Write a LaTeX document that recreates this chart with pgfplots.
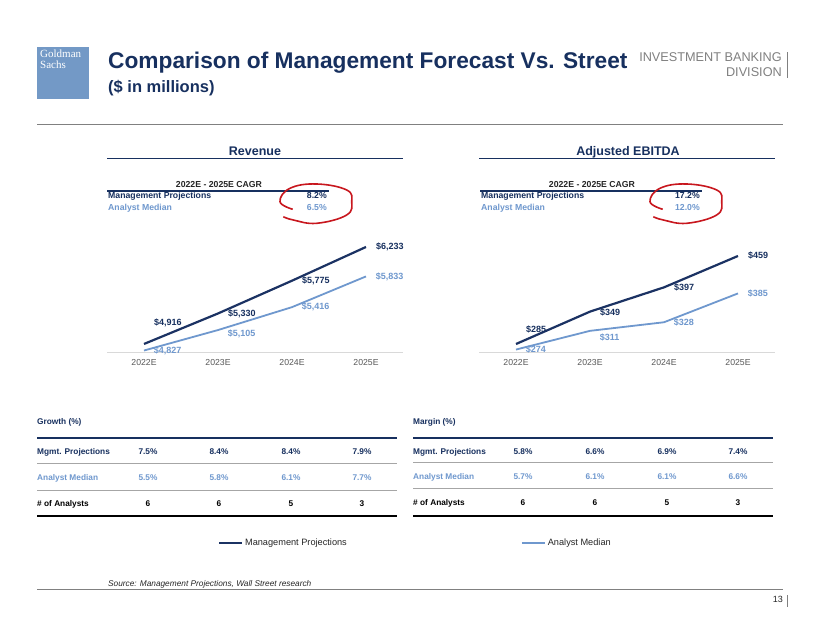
\documentclass[border=0pt]{standalone}
\usepackage{fontspec}
\setmainfont{Liberation Sans}
\newfontfamily\logofont{Liberation Serif}
\usepackage{pgfplots}
\pgfplotsset{compat=1.18}
\usepackage{pgfplotstable}

\definecolor{gsnavy}{HTML}{17305F}
\definecolor{gsline}{HTML}{1B3263}
\definecolor{gslight}{HTML}{6F98CE}
\definecolor{gslogo}{HTML}{7399C6}
\definecolor{gsgray}{HTML}{808080}
\definecolor{rulegray}{HTML}{A6A6A6}
\definecolor{tickgray}{HTML}{595959}
\definecolor{basegray}{HTML}{D9D9D9}
\definecolor{gsred}{HTML}{C8171E}
\definecolor{legtext}{HTML}{262626}

\newcommand{\fs}[1]{\fontsize{#1}{#1}\selectfont}

% revenue ($mm)
\pgfplotstableread{
x y lab dy
0 4916 4,916 21
1 5330 5,330 0
2 5775 5,775 0
3 6233 6,233 0
}\revM
\pgfplotstableread{
x y lab dy
0 4827 4,827 0
1 5105 5,105 -4
2 5416 5,416 0
3 5833 5,833 0
}\revA
% adjusted ebitda ($mm)
\pgfplotstableread{
x y lab dy
0 285 285 15
1 349 349 -1
2 397 397 0
3 459 459 0
}\ebM
\pgfplotstableread{
x y lab dy
0 274 274 0
1 311 311 -7
2 328 328 0
3 385 385 0
}\ebA

\pgfplotsset{
  minichart/.style={
    scale only axis, width=296pt, height=130pt, anchor=south west,
    xmin=-0.5, xmax=3.5,
    axis x line*=bottom, axis y line=none, ytick=\empty,
    x axis line style={draw=basegray, line width=0.8pt},
    xtick={0,1,2,3}, xticklabels={2022E,2023E,2024E,2025E},
    major tick length=0pt,
    xticklabel style={font=\fs{8.7}, text=tickgray, yshift=-4pt},
    clip=false,
    point meta=explicit symbolic,
    nodes near coords={\$\pgfplotspointmeta},
    visualization depends on={\thisrow{dy}\as\labdy},
    every node near coord/.append style={anchor=west, inner sep=0pt,
      xshift=9pt, yshift=\labdy pt, font=\bfseries\fs{9}},
  },
  mgmt/.style={draw=gsline, line width=2.2pt,
    every node near coord/.append style={text=gsnavy}},
  anal/.style={draw=gslight, line width=1.8pt,
    every node near coord/.append style={text=gslight}},
}

\begin{document}
\begin{tikzpicture}[tb/.style={inner sep=0pt, font=\bfseries\fs{8.3}}]
\path[use as bounding box, fill=white] (0,0) rectangle (820pt,634pt);

% header
\fill[gslogo] (37pt,535pt) rectangle (89pt,587pt);
\node[anchor=base west, inner sep=0pt, text=white, font=\logofont\fs{11}] at (40pt,576pt) {Goldman};
\node[anchor=base west, inner sep=0pt, text=white, font=\logofont\fs{11}] at (40pt,565pt) {Sachs};
\node[anchor=base west, inner sep=0pt, text=gsnavy, font=\bfseries\fs{22.7}] at (108pt,565pt) {Comparison of Management Forecast Vs. Street};
\node[anchor=base west, inner sep=0pt, text=gsnavy, font=\bfseries\fs{16.5}] at (108pt,541pt) {(\$ in millions)};
\node[anchor=base east, inner sep=0pt, text=gsgray, font=\fs{12.7}] at (782pt,572pt) {INVESTMENT BANKING};
\node[anchor=base east, inner sep=0pt, text=gsgray, font=\fs{12.7}] at (782pt,557pt) {DIVISION};
\draw[gsgray, line width=0.8pt] (787pt,556pt) -- (787pt,582pt);
\draw[gsgray, line width=1pt] (37pt,509pt) -- (783pt,509pt);

% chart headings and CAGR boxes
\node[anchor=base, inner sep=0pt, text=gsnavy, font=\bfseries\fs{12.5}] at (255pt,478pt) {Revenue};
\draw[gsnavy, line width=1.5pt] (107pt,475.5pt) -- (403pt,475.5pt);
\node[anchor=base, inner sep=0pt, text=gsnavy, font=\bfseries\fs{12.5}] at (628pt,478pt) {Adjusted EBITDA};
\draw[gsnavy, line width=1.5pt] (479pt,475.5pt) -- (775pt,475.5pt);

\foreach \dx/\l/\m/\a in {0/107/8.2/6.5, 373/480/17.2/12.0} {
  \node[anchor=base, inner sep=0pt, text=legtext, font=\bfseries\fs{8.7}] at (219pt+\dx pt,446pt) {2022E - 2025E CAGR};
  \draw[gsnavy, line width=1.5pt] (\l pt,443pt) -- (329pt+\dx pt,443pt);
  \node[anchor=base west, inner sep=0pt, text=gsnavy, font=\bfseries\fs{8.7}] at (\l pt+1pt,435pt) {Management Projections};
  \node[anchor=base east, inner sep=0pt, text=gsnavy, font=\bfseries\fs{8.7}] at (327pt+\dx pt,435pt) {\m\%};
  \node[anchor=base west, inner sep=0pt, text=gslight, font=\bfseries\fs{8.7}] at (\l pt+1pt,423pt) {Analyst Median};
  \node[anchor=base east, inner sep=0pt, text=gslight, font=\bfseries\fs{8.7}] at (327pt+\dx pt,423pt) {\a\%};
}
% red hand-drawn circles
\foreach \dx in {0,370} {
  \draw[gsred, line width=1.6pt, xshift=\dx pt] plot[smooth, tension=0.7] coordinates {
    (292.7pt,424.7pt) (280pt,432.3pt) (290pt,445.7pt) (316.7pt,450pt) (346.7pt,444pt)
    (351.7pt,432.3pt) (346.7pt,419pt) (316.7pt,410.7pt) (293.3pt,414pt) (283.3pt,417.3pt)};
}

% revenue chart
\begin{axis}[minichart, at={(107pt,282pt)}, ymin=4807, ymax=6572,
  legend columns=2,
  legend style={at={(1.042,-1.469)}, anchor=center, draw=none, fill=none,
    font=\fs{9.2}, text=legtext, inner sep=0pt,
    /tikz/every even column/.append style={column sep=172pt}},
  legend image code/.code={\draw[#1, line width=2pt] (0pt,0pt) -- (23pt,0pt);}]
\addplot[mgmt] table[x=x, y=y, meta=lab] {\revM};
\addlegendentry{Management Projections}
\addplot[anal] table[x=x, y=y, meta=lab] {\revA};
\addlegendentry{Analyst Median}
\end{axis}

% ebitda chart
\begin{axis}[minichart, at={(479pt,282pt)}, ymin=269.2, ymax=526.2]
\addplot[mgmt] table[x=x, y=y, meta=lab] {\ebM};
\addplot[anal] table[x=x, y=y, meta=lab] {\ebA};
\end{axis}

% growth table
\node[tb, anchor=mid west, text=gsnavy] at (37pt,212pt) {Growth (\%)};
\draw[gsnavy, line width=2pt] (37pt,196pt) -- (397pt,196pt);
\node[tb, anchor=mid west, text=gsnavy] at (37pt,182pt) {Mgmt. Projections};
\foreach \x/\v in {148/7.5, 219/8.4, 291/8.4, 362/7.9}
  \node[tb, text=gsnavy] at (\x pt,182pt) {\v\%};
\draw[rulegray, line width=1pt] (37pt,170pt) -- (397pt,170pt);
\node[tb, anchor=mid west, text=gslight] at (37pt,156pt) {Analyst Median};
\foreach \x/\v in {148/5.5, 219/5.8, 291/6.1, 362/7.7}
  \node[tb, text=gslight] at (\x pt,156pt) {\v\%};
\draw[rulegray, line width=1pt] (37pt,143.5pt) -- (397pt,143.5pt);
\node[tb, anchor=mid west, text=black] at (37pt,130.5pt) {\# of Analysts};
\foreach \x/\v in {148/6, 219/6, 291/5, 362/3}
  \node[tb, text=black] at (\x pt,130.5pt) {\v};
\draw[black, line width=1.5pt] (37pt,118pt) -- (397pt,118pt);

% margin table
\node[tb, anchor=mid west, text=gsnavy] at (413pt,212pt) {Margin (\%)};
\draw[gsnavy, line width=2pt] (413pt,196pt) -- (773pt,196pt);
\node[tb, anchor=mid west, text=gsnavy] at (413pt,182pt) {Mgmt. Projections};
\foreach \x/\v in {523/5.8, 595/6.6, 667/6.9, 738/7.4}
  \node[tb, text=gsnavy] at (\x pt,182pt) {\v\%};
\draw[rulegray, line width=1pt] (413pt,171pt) -- (773pt,171pt);
\node[tb, anchor=mid west, text=gslight] at (413pt,157pt) {Analyst Median};
\foreach \x/\v in {523/5.7, 595/6.1, 667/6.1, 738/6.6}
  \node[tb, text=gslight] at (\x pt,157pt) {\v\%};
\draw[rulegray, line width=1pt] (413pt,145pt) -- (773pt,145pt);
\node[tb, anchor=mid west, text=black] at (413pt,131pt) {\# of Analysts};
\foreach \x/\v in {523/6, 595/6, 667/5, 738/3}
  \node[tb, text=black] at (\x pt,131pt) {\v};
\draw[black, line width=1.5pt] (413pt,118pt) -- (773pt,118pt);

% footer
\node[anchor=base west, inner sep=0pt, text=legtext, font=\itshape\fs{8.3}] at (108pt,47pt) {Source: Management Projections, Wall Street research};
\draw[gsgray, line width=1pt] (37pt,44pt) -- (783pt,44pt);
\node[anchor=base east, inner sep=0pt, text=legtext, font=\fs{9}] at (783pt,31pt) {13};
\draw[gsgray, line width=0.8pt] (787pt,27pt) -- (787pt,39pt);
\end{tikzpicture}
\end{document}
